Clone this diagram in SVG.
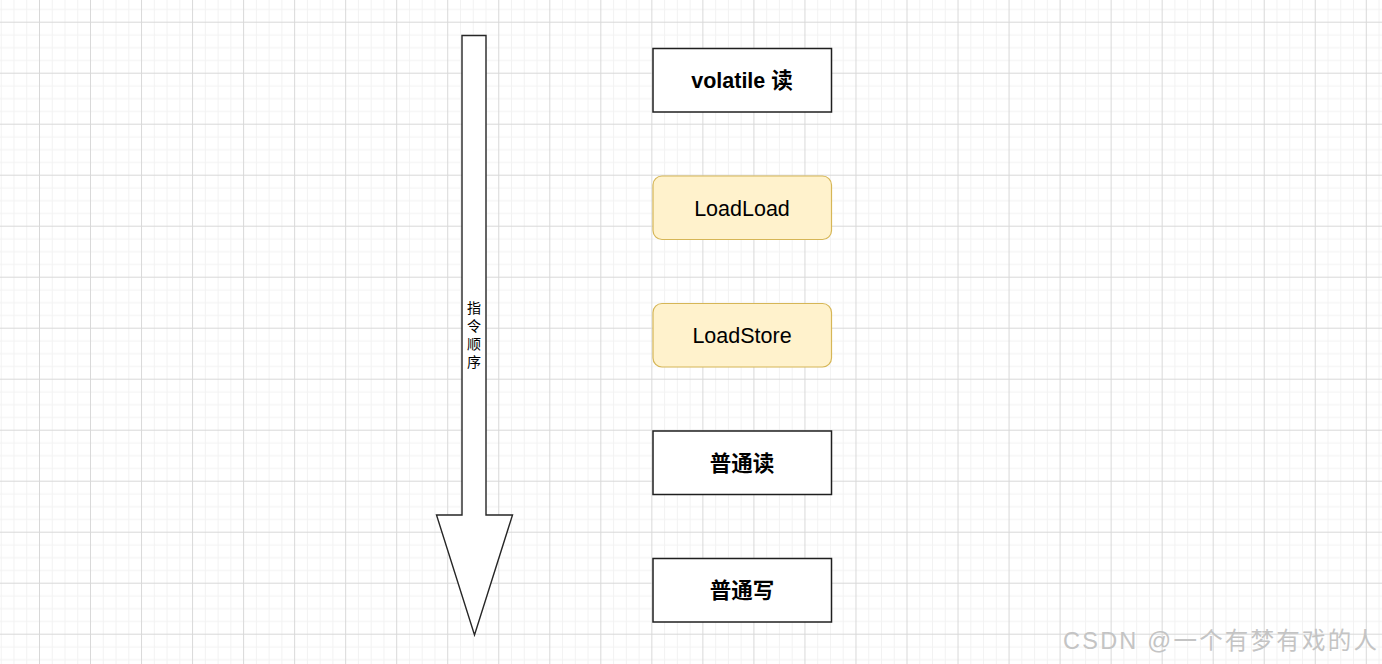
<svg xmlns="http://www.w3.org/2000/svg" width="1382" height="664" viewBox="0 0 1382 664">
  <defs>
    <pattern id="grid" patternUnits="userSpaceOnUse" x="39" y="21.7" width="51.03" height="51">
      <rect x="12.76" y="0" width="1" height="51" fill="#f2f2f2"/>
      <rect x="25.51" y="0" width="1" height="51" fill="#f2f2f2"/>
      <rect x="38.27" y="0" width="1" height="51" fill="#f2f2f2"/>
      <rect x="0" y="12.75" width="51.03" height="1" fill="#f2f2f2"/>
      <rect x="0" y="25.5" width="51.03" height="1" fill="#f2f2f2"/>
      <rect x="0" y="38.25" width="51.03" height="1" fill="#f2f2f2"/>
      <rect x="0" y="0" width="1" height="51" fill="#d8d8d8"/>
      <rect x="0" y="0" width="51.03" height="1" fill="#d8d8d8"/>
    </pattern>
    <style>
      .box { fill: #ffffff; stroke: #1f1f1f; stroke-width: 1.5; }
      .barrier { fill: #fff2cc; stroke: #d6b656; stroke-width: 1.2; }
      .lbl { font-family: "Liberation Sans", "Noto Sans CJK SC", sans-serif; font-size: 21.5px; fill: #000; text-anchor: middle; }
      .bold { font-weight: bold; }
      .vert { font-family: "Noto Sans CJK SC", "Liberation Sans", sans-serif; font-size: 14px; fill: #000; text-anchor: middle; }
      .wm { font-family: "Liberation Sans", "Noto Sans CJK SC", sans-serif; font-size: 23.5px; fill: #c4c4c4; }
    </style>
  </defs>

  <rect x="0" y="0" width="1382" height="664" fill="#ffffff"/>
  <rect x="0" y="0" width="1382" height="664" fill="url(#grid)"/>

  <g id="connectors"></g>

  <g id="order-arrow">
    <polygon points="462,35.5 486,35.5 486,515 512.5,515 474.5,635 436.5,515 462,515" fill="#ffffff" stroke="#262626" stroke-width="1.4" stroke-linejoin="miter"/>
    <text class="vert" x="474" y="312.5">指</text>
    <text class="vert" x="474" y="330.5">令</text>
    <text class="vert" x="474" y="348.5">顺</text>
    <text class="vert" x="474" y="366.5">序</text>
  </g>

  <g id="volatile-read">
    <rect class="box" x="653" y="48.5" width="178.5" height="63.5"/>
    <text class="lbl bold" x="742" y="87.5">volatile 读</text>
  </g>

  <g id="loadload">
    <rect class="barrier" x="653" y="176" width="178.5" height="63.5" rx="9" ry="9"/>
    <text class="lbl" x="742" y="215.5">LoadLoad</text>
  </g>

  <g id="loadstore">
    <rect class="barrier" x="653" y="303.5" width="178.5" height="63.5" rx="9" ry="9"/>
    <text class="lbl" x="742" y="342.5">LoadStore</text>
  </g>

  <g id="normal-read">
    <rect class="box" x="653" y="431" width="178.5" height="63.5"/>
    <text class="lbl bold" x="742" y="470.5">普通读</text>
  </g>

  <g id="normal-write">
    <rect class="box" x="653" y="558.5" width="178.5" height="63.5"/>
    <text class="lbl bold" x="742" y="597.5">普通写</text>
  </g>

  <text class="wm" x="1063" y="649" textLength="314" lengthAdjust="spacing">CSDN @一个有梦有戏的人</text>
</svg>
